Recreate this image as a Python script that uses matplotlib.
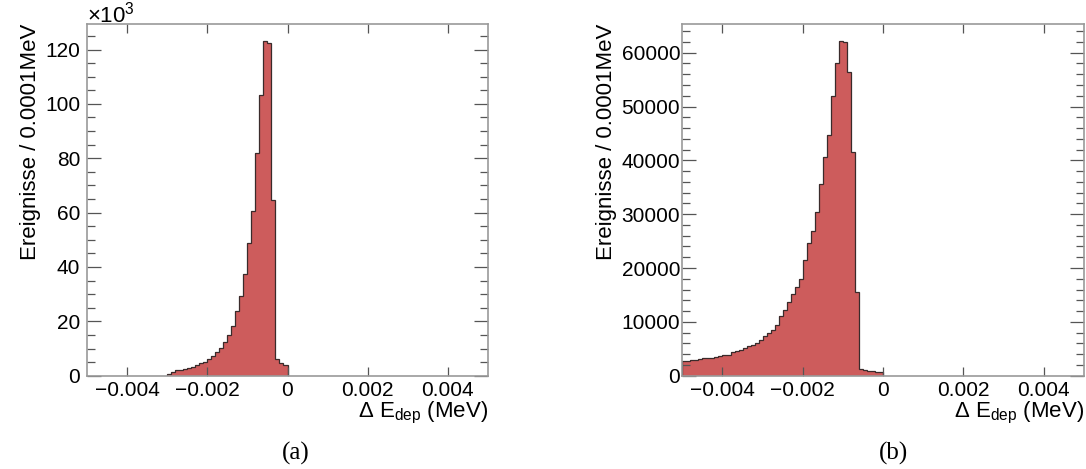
import numpy as np
import matplotlib
matplotlib.use("Agg")
import matplotlib.pyplot as plt
from matplotlib.ticker import MultipleLocator, FuncFormatter
from matplotlib.transforms import offset_copy

plt.rcParams['font.family'] = ['Liberation Sans', 'DejaVu Sans']
plt.rcParams['mathtext.fontset'] = 'custom'
plt.rcParams['mathtext.rm'] = 'Liberation Sans'

# ----------------------------------------------
# histogram contents, bin width 0.0001 MeV
# ----------------------------------------------
bin_width = 0.0001

# (a): bins from -0.003 to 0, counts in units of 10^3
a_start = -0.003
a_counts = np.array([0.6, 1.5, 2.0, 2.1, 2.35, 2.7, 3.3, 3.8, 4.6, 5.0,
                     6.0, 7.1, 8.6, 10.1, 12.4, 14.9, 18.2, 23.7, 29.2, 37.3,
                     48.7, 60.5, 82.1, 103.2, 123.3, 122.3, 64.5, 6.0, 4.8, 3.9]) * 1000

# (b): bins from -0.005 to 0
b_start = -0.005
b_counts = np.array([2.73, 2.79, 2.85, 2.9, 3.1, 3.3, 3.3, 3.35, 3.4, 3.7,
                     3.85, 3.9, 4.35, 4.6, 4.85, 5.1, 5.5, 5.75, 6.07, 6.6,
                     7.3, 7.9, 8.5, 9.5, 11.1, 12.2, 13.6, 15.1, 16.5, 18.0,
                     21.5, 24.7, 26.9, 30.5, 35.7, 40.6, 44.8, 51.9, 58.1, 62.2,
                     61.9, 56.4, 41.5, 15.5, 1.3, 1.05, 0.93, 0.85, 0.78, 0.6]) * 1000

x_ticks = [-0.004, -0.002, 0, 0.002, 0.004]
fill_col = '#cd5c5c'
line_col = '#3a2b2b'
frame_col = '#9a9a9a'
tick_col = '#555555'


def fmt_x(v, pos):
    if abs(v) < 1e-12:
        return "0"
    return ("%.3f" % v).replace("-", "\u2212")


def draw_hist(ax, start, counts, ymax, ymajor, yminor, ypad):
    edges = start + bin_width * np.arange(len(counts) + 1)
    ax.stairs(counts, edges, fill=True, color=fill_col, linewidth=0)
    ax.stairs(counts, edges, baseline=0, color=line_col, linewidth=0.9)
    ax.set_xlim(-0.005, 0.005)
    ax.set_ylim(0, ymax)
    ax.set_xticks(x_ticks)
    ax.xaxis.set_major_formatter(FuncFormatter(fmt_x))
    ax.yaxis.set_major_locator(MultipleLocator(ymajor))
    ax.yaxis.set_minor_locator(MultipleLocator(yminor))
    ax.tick_params(which='both', direction='in', top=True, right=True,
                   colors=tick_col, labelcolor='black', labelsize=15, width=0.9)
    ax.tick_params(axis='x', which='major', length=6.5, pad=4)
    ax.tick_params(axis='y', which='major', length=10, pad=ypad)
    ax.tick_params(axis='y', which='minor', length=5.5)
    for sp in ax.spines.values():
        sp.set_color(frame_col)
        sp.set_linewidth(1.2)
    ax.set_xlabel(r"Δ E$_{\mathrm{dep}}$ (MeV)", fontsize=16, loc='right', labelpad=0)
    ax.set_ylabel("Ereignisse / 0.0001MeV", fontsize=16, loc='top', labelpad=3)


fig = plt.figure(figsize=(10.86, 4.69), dpi=100)
ax1 = fig.add_axes([87 / 1086, 93.3 / 469, 401 / 1086, 351.7 / 469])
ax2 = fig.add_axes([682.3 / 1086, 93.3 / 469, 401.7 / 1086, 351.7 / 469])

draw_hist(ax1, a_start, a_counts, 129400, 20000, 5000, 5)
ax1.yaxis.set_major_formatter(FuncFormatter(lambda v, p: "%d" % round(v / 1000)))
ax1.text(0, 1.0, r"×10$^{3}$",
         transform=offset_copy(ax1.transAxes, fig=fig, x=0, y=2, units='dots'),
         ha='left', va='baseline', fontsize=16)

draw_hist(ax2, b_start, b_counts, 65330, 10000, 2000, 1.5)

fig.text(296 / 1086, 16 / 469, "(a)", ha='center', va='center', fontsize=18,
         family='Liberation Serif')
fig.text(893 / 1086, 16 / 469, "(b)", ha='center', va='center', fontsize=18,
         family='Liberation Serif')

fig.savefig("out.png", dpi=100)
